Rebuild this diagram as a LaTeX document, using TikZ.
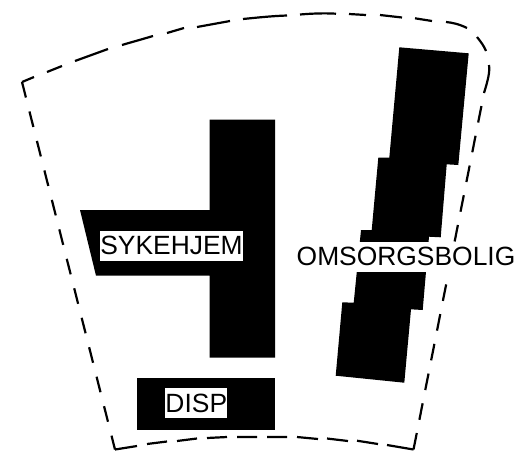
\documentclass[tikz,border=0pt]{standalone}
\usepackage{fontspec}
\setmainfont{Liberation Sans}
\tikzset{
  bldg/.style={fill=black,draw=none},
  edge/.style={line width=2.2pt,black,line join=round},
  sideleft/.style={edge,dash pattern=on 16pt off 14.4pt},
  sideright/.style={edge,dash pattern=on 16.8pt off 13.5pt},
  lbl/.style={fill=white,inner sep=0pt,minimum height=30pt,font=\fontsize{26.4}{30}\selectfont,text=black}
}
\begin{document}
\begin{tikzpicture}[x=1pt,y=-1pt]
\useasboundingbox (0,0) rectangle (516,451);
% buildings
\fill[bldg] (209.5,119.5) -- (275,119.5) -- (275,357.7) -- (209.5,357.7) -- (209.5,275.7) -- (96,275.7) -- (80,210) -- (209.5,210) -- cycle;
\fill[bldg] (137.3,377.7) rectangle (275,430);
\fill[bldg] (399.3,47.3) -- (468.7,53.3) -- (458.3,165) -- (446.7,164.3) -- (440.7,237.3) -- (429,236.7) -- (422.7,310) -- (411,309.3) -- (404.3,382.7) -- (335.7,375.7) -- (342.3,302.3) -- (353.7,302.7) -- (361,230) -- (371.7,230) -- (378.3,157.7) -- (389.3,157.7) -- cycle;
% site boundary
\coordinate (tl) at (22,82);
\coordinate (bl) at (115,449.5);
\coordinate (br) at (413.5,449.5);
\coordinate (rt) at (484,93);
\draw[sideleft] (tl) -- (bl);
\draw[sideright] (br) -- (rt);
\draw[edge] (tl) -- (34,77)
  (47,72) -- (62,66)
  (75,61) .. controls (86,57) and (97,53) .. (108,49)
  (122,45) .. controls (132,42) and (143,39) .. (153,36)
  (167,33) -- (184,28)
  (197,27) .. controls (208,25) and (219,23) .. (230,21)
  (243,19) .. controls (258,17.5) and (272,16) .. (287,15.5)
  (300,14.5) .. controls (312,13.5) and (324,13) .. (336,13.7)
  (349,14) -- (366,15)
  (380,15) -- (402,17.5)
  (415,18.3) -- (432,21)
  (446,22) .. controls (452,22.6) and (459,24) .. (467,28)
  (477,37) .. controls (481,42) and (484,46) .. (486,51)
  (489,65) .. controls (490,72) and (488,80) .. (rt);
\draw[edge] (bl) -- (137,446)
  (147,444) -- (167,441.5)
  (177,441) -- (197,438.5)
  (207,438) -- (227,437)
  (237,437) -- (257,437)
  (267,437) -- (287,437)
  (297,437) -- (318,439)
  (327,438.5) -- (348,441)
  (357,440.7) -- (378,444)
  (387,445) -- (br);
% labels
\node[lbl] (sykehjem) at (171.5,245.8) {SYKEHJEM};
\node[lbl] (disp) at (196.3,403) {DISP};
\node[lbl] (omsorg) at (406,256.8) {OMSORGSBOLIG};
\end{tikzpicture}
\end{document}
